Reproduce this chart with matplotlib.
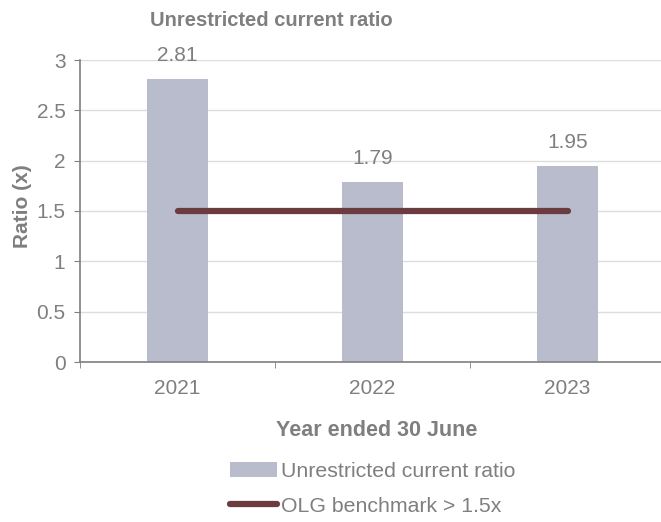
import matplotlib
matplotlib.use("Agg")
import matplotlib.pyplot as plt
from matplotlib.patches import Patch
from matplotlib.lines import Line2D

years = ["2021", "2022", "2023"]
ratio = [2.81, 1.79, 1.95]
benchmark = [1.5, 1.5, 1.5]
yticks = [0, 0.5, 1, 1.5, 2, 2.5, 3]
ytick_labels = ["0", "0.5", "1", "1.5", "2", "2.5", "3"]

gray = "#7F7F7F"
bar_color = "#B9BCCD"
line_color = "#6B3B3F"

plt.rcParams['font.family'] = ['Liberation Sans', 'DejaVu Sans']

W, H = 661, 522
fig = plt.figure(figsize=(6.61, 5.22), dpi=100)
ax = fig.add_axes([80/W, 160/H, 585/W, 302/H])

x = list(range(len(years)))
ax.bar(x, ratio, width=0.31, color=bar_color, zorder=2)
ax.plot(x, benchmark, color=line_color, linewidth=4.5, solid_capstyle='round', zorder=3)

for xi, v in zip(x, ratio):
    ax.annotate(f"{v:.2f}", (xi, v), xytext=(0, 17), textcoords='offset points',
                ha='center', va='center', fontsize=15, color=gray)

ax.set_xlim(-0.5, 2.5)
ax.set_ylim(0, 3)
ax.set_yticks(yticks)
ax.set_yticklabels(ytick_labels)
ax.set_xticks(x)
ax.set_xticklabels(years)
ax.set_xticks([-0.5, 0.5, 1.5, 2.5], minor=True)
ax.tick_params(axis='x', which='major', length=0, pad=12, labelsize=15, labelcolor=gray)
ax.tick_params(axis='x', which='minor', length=4.5, color=gray, direction='out')
ax.tick_params(axis='y', length=4.5, color=gray, labelsize=15, labelcolor=gray, pad=6)

ax.yaxis.grid(True, color="#DDDDDD", linewidth=1, zorder=0)
ax.set_axisbelow(True)
for s in ['top', 'right']:
    ax.spines[s].set_visible(False)
for s in ['left', 'bottom']:
    ax.spines[s].set_color(gray)
    ax.spines[s].set_linewidth(1.2)

fig.text(22/W, 1 - 206/H, "Ratio (x)", rotation=90, ha='center', va='center',
         fontsize=15, fontweight='bold', color=gray)
fig.text(377/W, 1 - 430/H, "Year ended 30 June", ha='center', va='center',
         fontsize=15.5, fontweight='bold', color=gray)
fig.text(271/W, 1 - 20/H, "Unrestricted current ratio", ha='center', va='center',
         fontsize=14.5, fontweight='bold', color=gray)

handles = [Patch(facecolor=bar_color, edgecolor='none'),
           Line2D([0], [0], color=line_color, linewidth=4.5, solid_capstyle='round')]
labels = ["Unrestricted current ratio", "OLG benchmark > 1.5x"]
leg = fig.legend(handles, labels, loc='center', bbox_to_anchor=(373/W, 1 - 489/H),
                 frameon=False, fontsize=15.3, handlelength=2.2, handletextpad=0.2,
                 labelspacing=0.72)
for t in leg.get_texts():
    t.set_color(gray)

fig.savefig("out.png", dpi=100)
